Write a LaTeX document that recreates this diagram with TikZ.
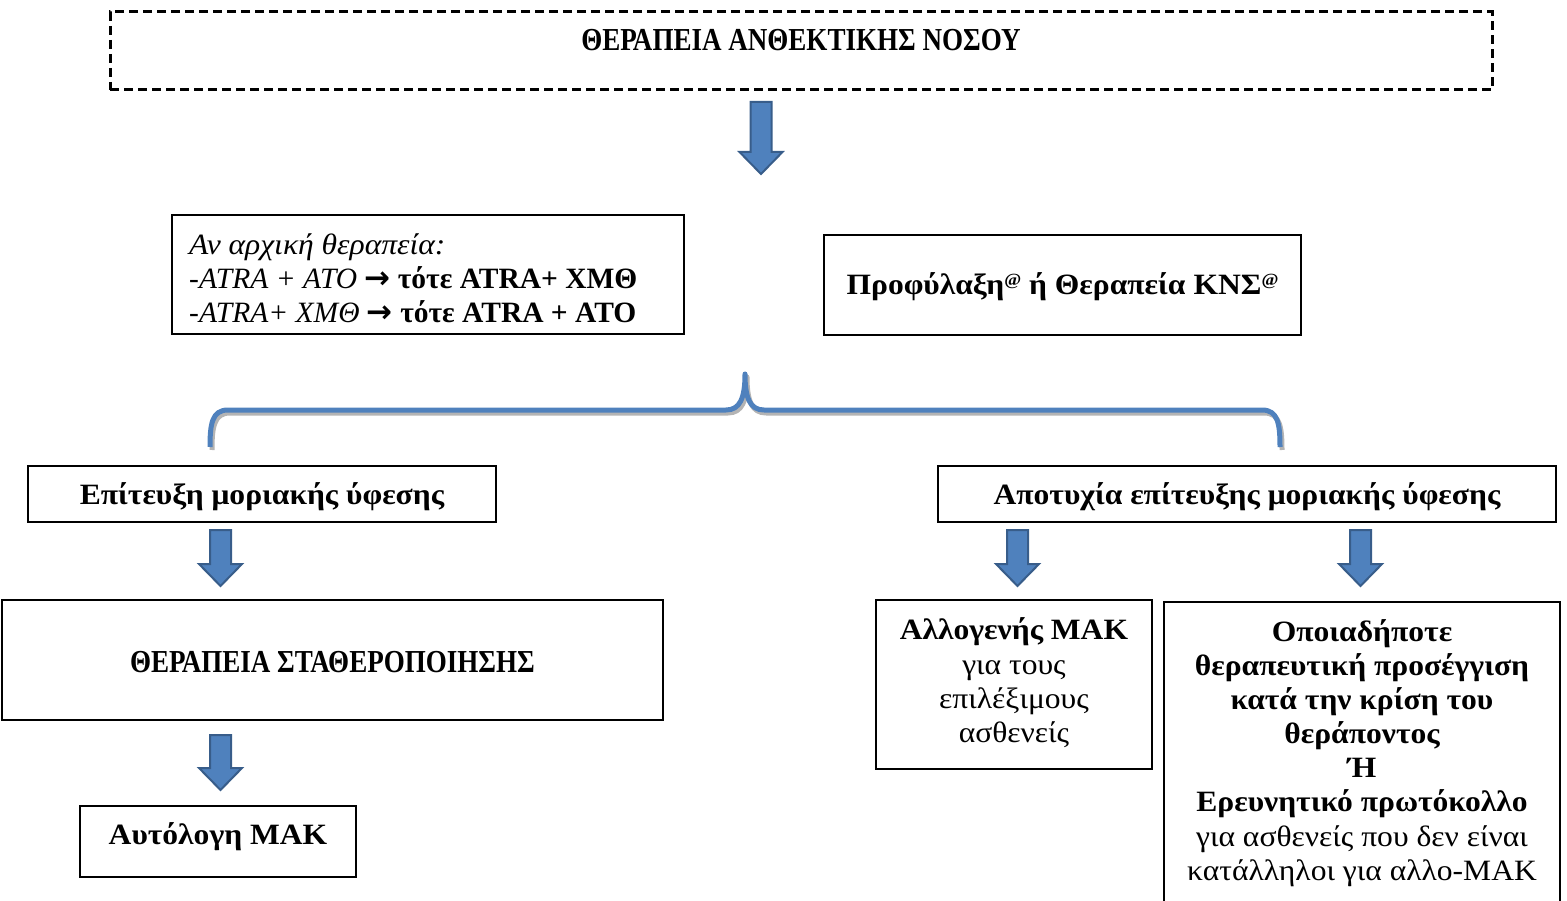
\documentclass[tikz,border=0pt]{standalone}
\usepackage{fontspec}
\setmainfont{Liberation Serif}[FakeStretch=1.07]
\newfontfamily\plainfont{Liberation Serif}
\newfontfamily\capsfont{Liberation Serif}[FakeStretch=0.845]
\newfontfamily\symfont{DejaVu Sans}
\definecolor{arrowblue}{HTML}{4F81BD}
\definecolor{arrowedge}{HTML}{385D8A}
\definecolor{shadowgrey}{HTML}{B4B4B4}
\newcommand\txtsize{\fontsize{29.5}{34.3}\selectfont}
\newcommand\capsize{\fontsize{32}{36}\selectfont}
\newcommand\supat{\raisebox{9pt}{\fontsize{17}{17}\selectfont @}}
\newcommand\bigarr{{\symfont\bfseries\fontsize{31}{34}\selectfont →}}
\newcommand\blockarrow[4]{% name, center x, top y, bottom y
  \path[barrow] ({#2-10.5},#3) -- ({#2+10.5},#3) -- ({#2+10.5},{#4-22}) -- ({#2+21.5},{#4-22})
    -- (#2,#4) coordinate (#1) -- ({#2-21.5},{#4-22}) -- ({#2-10.5},{#4-22}) -- cycle;}
\begin{document}
\begin{tikzpicture}[x=1pt,y=-1pt,
  box/.style={draw=black, line width=1.2pt, inner sep=0pt},
  lbl/.style={font=\txtsize, inner sep=0pt, anchor=base},
  capslbl/.style={font=\capsize\capsfont\bfseries, inner sep=0pt, anchor=base},
  barrow/.style={fill=arrowblue, draw=arrowedge, line width=2pt, line join=miter},
  bracestyle/.style={line width=5pt, line join=round, line cap=butt},
]
\useasboundingbox (0,0) rectangle (1567,901);

% title
\node[box, dashed, line width=3pt, dash pattern=on 9pt off 5pt, minimum width=1382, minimum height=78] (title) at (801,51) {};
\node[capslbl] (titletxt) at (801,51) {ΘΕΡΑΠΕΙΑ ΑΝΘΕΚΤΙΚΗΣ ΝΟΣΟΥ};

\blockarrow{a1}{761}{102}{174}

% box A
\node[box, minimum width=512, minimum height=119] (boxA) at (428,274.5) {};
\node[lbl, anchor=base west] (a1l) at (189,255) {\itshape Αν αρχική θεραπεία:};
\node[lbl, anchor=base west, font=\txtsize\plainfont] (a2l) at (189,289) {\textit{-ATRA + ATO} \bigarr{} \textbf{τότε ATRA+ ΧΜΘ}};
\node[lbl, anchor=base west, font=\txtsize\plainfont] (a3l) at (189,323) {\textit{-ATRA+ ΧΜΘ} \bigarr{} \textbf{τότε ATRA + ATO}};

% box B
\node[box, minimum width=477, minimum height=100] (boxB) at (1062.5,285) {};
\node[lbl] (btxt) at (1062.5,295) {\bfseries Προφύλαξη\supat{} ή Θεραπεία ΚΝΣ\supat};

% brace
\draw[bracestyle, shadowgrey, shift={(2,3)}] (210,447) .. controls (210,424) and (212,410) .. (228,410) -- (726,410)
   .. controls (740,410) and (745,398) .. (745,374) .. controls (745,398) and (750,410) .. (764,410) -- (1262,410)
   .. controls (1278,410) and (1280,424) .. (1280,447);
\draw[bracestyle, arrowblue] (210,447) coordinate (brL) .. controls (210,424) and (212,410) .. (228,410) -- (726,410)
   .. controls (740,410) and (745,398) .. (745,374) coordinate (brTip) .. controls (745,398) and (750,410) .. (764,410) -- (1262,410)
   .. controls (1278,410) and (1280,424) .. (1280,447) coordinate (brR);

% box C / D
\node[box, minimum width=468, minimum height=56] (boxC) at (262,494) {};
\node[lbl] (ctxt) at (262,504) {\bfseries Επίτευξη μοριακής ύφεσης};
\node[box, minimum width=618, minimum height=56] (boxD) at (1247,494) {};
\node[lbl] (dtxt) at (1247,504) {\bfseries Αποτυχία επίτευξης μοριακής ύφεσης};

\blockarrow{a2}{220.5}{530}{586}
\blockarrow{a3}{1017.5}{530}{586}
\blockarrow{a4}{1360.5}{530}{586}

% box E
\node[box, minimum width=661, minimum height=120] (boxE) at (332.5,660) {};
\node[capslbl] (etxt) at (332.5,672) {ΘΕΡΑΠΕΙΑ ΣΤΑΘΕΡΟΠΟΙΗΣΗΣ};

\blockarrow{a5}{220.5}{735}{790}

% box F
\node[box, minimum width=276, minimum height=71] (boxF) at (218,841.5) {};
\node[lbl] (ftxt) at (218,844) {\bfseries Αυτόλογη ΜΑΚ};

% box G
\node[box, minimum width=276, minimum height=169] (boxG) at (1014,684.5) {};
\node[lbl] (g1) at (1014,639) {\bfseries Αλλογενής ΜΑΚ};
\node[lbl] (g2) at (1014,674) {για τους};
\node[lbl] (g3) at (1014,708) {επιλέξιμους};
\node[lbl] (g4) at (1014,742) {ασθενείς};

% box H
\node[box, minimum width=396, minimum height=314] (boxH) at (1362,759) {};
\node[lbl] (h1) at (1362,641) {\bfseries Οποιαδήποτε};
\node[lbl] (h2) at (1362,675) {\bfseries θεραπευτική προσέγγιση};
\node[lbl] (h3) at (1362,709) {\bfseries κατά την κρίση του};
\node[lbl] (h4) at (1362,743) {\bfseries θεράποντος};
\node[lbl] (h5) at (1362,777) {\bfseries Ή};
\node[lbl] (h6) at (1362,811) {\bfseries Ερευνητικό πρωτόκολλο};
\node[lbl] (h7) at (1362,846) {για ασθενείς που δεν είναι};
\node[lbl] (h8) at (1362,880) {κατάλληλοι για αλλο-ΜΑΚ};
\end{tikzpicture}
\end{document}
